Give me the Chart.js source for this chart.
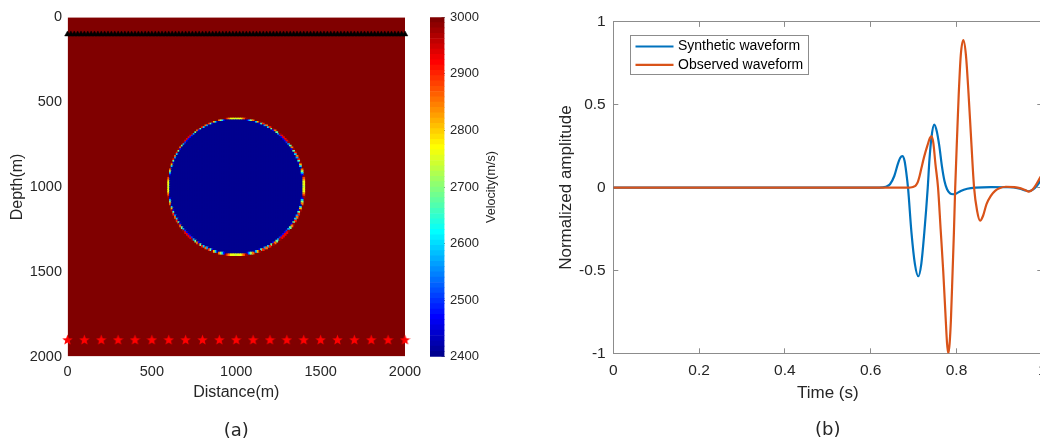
<!DOCTYPE html>
<html>
<head>
<meta charset="utf-8">
<script src="https://cdn.jsdelivr.net/npm/chart.js@4.4.1/dist/chart.umd.min.js"></script>
<style>
  html, body { margin: 0; padding: 0; background: #fff; overflow: hidden; width: 1040px; height: 445px; }
  canvas { position: absolute; top: 0; }
  #model { left: 0; }
  #cbar { left: 420px; }
  #wave { left: 520px; }
</style>
</head>
<body>
<canvas id="model" width="430" height="445"></canvas>
<canvas id="cbar" width="90" height="445"></canvas>
<canvas id="wave" width="540" height="445"></canvas>
<script>
// velocity model (a)
let backgroundVelocity = 3000,
    anomalyVelocity = 2400,
    velocityRange = [2400, 3000],
    velocityTicks = [2400, 2500, 2600, 2700, 2800, 2900, 3000],
    anomalyCenter = [1000, 1000],
    anomalyRadius = 400,
    gridStep = 10,
    modelSize = 2000,
    receiverDepth = 100,
    receiverX = [0, 20, 40, 60, 80, 100, 120, 140, 160, 180, 200, 220, 240, 260, 280, 300, 320, 340, 360, 380,
        400, 420, 440, 460, 480, 500, 520, 540, 560, 580, 600, 620, 640, 660, 680, 700, 720, 740, 760, 780,
        800, 820, 840, 860, 880, 900, 920, 940, 960, 980, 1000, 1020, 1040, 1060, 1080, 1100, 1120, 1140, 1160, 1180,
        1200, 1220, 1240, 1260, 1280, 1300, 1320, 1340, 1360, 1380, 1400, 1420, 1440, 1460, 1480, 1500, 1520, 1540, 1560, 1580,
        1600, 1620, 1640, 1660, 1680, 1700, 1720, 1740, 1760, 1780, 1800, 1820, 1840, 1860, 1880, 1900, 1920, 1940, 1960, 1980, 2000],
    sourceDepth = 1900,
    sourceX = [0, 100, 200, 300, 400, 500, 600, 700, 800, 900, 1000, 1100, 1200, 1300, 1400, 1500, 1600, 1700, 1800, 1900, 2000];

// waveforms (b)
let seriesLabels = ['Synthetic waveform', 'Observed waveform'],
    synthTime = [0, 0.62, 0.635, 0.645, 0.655, 0.663, 0.669, 0.674, 0.679, 0.683, 0.687, 0.695, 0.703, 0.711, 0.718, 0.725,
        0.733, 0.737, 0.742, 0.748, 0.754, 0.760, 0.766, 0.772, 0.778, 0.785, 0.792, 0.800, 0.810, 0.825, 0.845, 0.880,
        0.920, 0.945, 0.958, 0.968, 0.978, 0.988, 1.0],
    synthAmp = [0, 0, 0.005, 0.02, 0.07, 0.14, 0.18, 0.19, 0.16, 0.09, 0, -0.27, -0.46, -0.535, -0.46, -0.27,
        0, 0.17, 0.31, 0.38, 0.34, 0.25, 0.13, 0.04, -0.01, -0.035, -0.04, -0.035, -0.02, -0.007, 0, 0.003,
        0.002, -0.005, -0.015, -0.022, -0.012, 0.012, 0.06],
    obsTime = [0, 0.69, 0.696, 0.700, 0.705, 0.710, 0.714, 0.718, 0.725, 0.733, 0.738, 0.742, 0.746, 0.751, 0.757, 0.763,
        0.769, 0.774, 0.778, 0.781, 0.784, 0.787, 0.791, 0.794, 0.797, 0.802, 0.805, 0.810, 0.816, 0.822, 0.828, 0.834,
        0.841, 0.848, 0.855, 0.862, 0.870, 0.880, 0.890, 0.900, 0.915, 0.935, 0.950, 0.960, 0.969, 0.978, 0.986, 0.995, 1.0],
    obsAmp = [0, 0, 0.002, 0.005, 0.013, 0.035, 0.07, 0.115, 0.19, 0.26, 0.30, 0.31, 0.27, 0.14, 0, -0.25,
        -0.5, -0.75, -0.94, -1.0, -0.94, -0.8, -0.5, -0.27, 0, 0.35, 0.55, 0.80, 0.89, 0.80, 0.57, 0.30,
        0, -0.14, -0.20, -0.17, -0.10, -0.05, -0.02, -0.004, 0.005, 0.003, -0.005, -0.015, -0.024, -0.01, 0.02, 0.06, 0.08],
    seriesColors = ['#0072BD', '#D95319'];

let textColor = '#262626',
    axisGray = '#8c8c8c';

Chart.defaults.font.family = "'Liberation Sans', Arial, sans-serif";
Chart.defaults.color = textColor;

// MATLAB jet(64)
function jet(m) {
    let n = Math.ceil(m / 4), u = [], map = [];
    for (let i = 1; i <= n; i++) u.push(i / n);
    for (let i = 1; i < n; i++) u.push(1);
    for (let i = n; i >= 1; i--) u.push(i / n);
    for (let i = 0; i < m; i++) map.push([0, 0, 0]);
    let g0 = Math.ceil(n / 2) - (m % 4 === 1 ? 1 : 0);
    u.forEach(function (val, k) {
        let g = g0 + k + 1, r = g + n, b = g - n;
        if (r >= 1 && r <= m) map[r - 1][0] = val;
        if (g >= 1 && g <= m) map[g - 1][1] = val;
        if (b >= 1 && b <= m) map[b - 1][2] = val;
    });
    return map.map(c => 'rgb(' + Math.round(c[0] * 255) + ',' + Math.round(c[1] * 255) + ',' + Math.round(c[2] * 255) + ')');
}
let cmap = jet(64);

function colorOf(v) {
    let idx = Math.floor((v - velocityRange[0]) / (velocityRange[1] - velocityRange[0]) * 64);
    return cmap[Math.max(0, Math.min(63, idx))];
}

// model cells that differ from the background
let cells = [], cellColors = [];
for (let z = 0; z <= modelSize; z += gridStep) {
    for (let x = 0; x <= modelSize; x += gridStep) {
        let inside = 0;
        for (let i = 0; i < 5; i++) {
            for (let j = 0; j < 5; j++) {
                let sx = x - gridStep / 2 + (i + 0.5) * gridStep / 5,
                    sz = z - gridStep / 2 + (j + 0.5) * gridStep / 5;
                if (Math.hypot(sx - anomalyCenter[0], sz - anomalyCenter[1]) <= anomalyRadius) inside++;
            }
        }
        if (inside === 0) continue;
        let v = backgroundVelocity + (anomalyVelocity - backgroundVelocity) * inside / 25;
        cells.push({x: x, y: z});
        cellColors.push(colorOf(v));
    }
}

function starMarker(size, color) {
    let c = document.createElement('canvas');
    c.width = c.height = size;
    let g = c.getContext('2d'), R = size / 2, r = R * 0.42;
    g.beginPath();
    for (let k = 0; k < 10; k++) {
        let rad = k % 2 ? r : R, ang = -Math.PI / 2 + k * Math.PI / 5;
        g.lineTo(R + rad * Math.cos(ang), R + 0.6 + rad * Math.sin(ang));
    }
    g.closePath();
    g.fillStyle = color;
    g.fill();
    return c;
}

new Chart(document.getElementById('model'), {
    type: 'scatter',
    data: {
        datasets: [{
            type: 'line',
            data: [{x: 0, y: modelSize}, {x: modelSize, y: modelSize}],
            fill: 'origin',
            backgroundColor: colorOf(backgroundVelocity),
            borderWidth: 0,
            pointRadius: 0,
            order: 4
        }, {
            data: cells,
            pointStyle: 'rect',
            // squares a bit larger than one cell so no seams show between them
            pointRadius: function (ctx) {
                let a = ctx.chart.chartArea;
                return a ? ((a.right - a.left) / (modelSize / gridStep) + 1) / Math.SQRT2 : 2;
            },
            backgroundColor: cellColors,
            pointBorderWidth: 0,
            order: 3
        }, {
            data: receiverX.map(x => ({x: x, y: receiverDepth})),
            pointStyle: 'triangle',
            pointRadius: 3.3,
            backgroundColor: '#000',
            pointBorderColor: '#000',
            pointBorderWidth: 0.5,
            clip: false,
            order: 2
        }, {
            data: sourceX.map(x => ({x: x, y: sourceDepth})),
            pointStyle: starMarker(11, '#ff0000'),
            pointBorderWidth: 0,
            clip: false,
            order: 1
        }]
    },
    options: {
        responsive: false,
        animation: false,
        events: [],
        devicePixelRatio: 1,
        layout: {padding: {top: 17.3, right: 25, left: 0, bottom: 0}},
        plugins: {
            legend: {display: false},
            tooltip: {enabled: false},
            title: {
                display: true, position: 'bottom', fullSize: false, text: '(a)', color: textColor,
                font: {family: "'DejaVu Sans'", size: 18, weight: 'normal'}, padding: {top: 3, bottom: 3}
            }
        },
        scales: {
            x: {
                type: 'linear', min: 0, max: modelSize,
                ticks: {stepSize: 500, padding: 6.8, font: {size: 14.5}, maxRotation: 0, callback: v => String(v)},
                grid: {display: false, drawTicks: false},
                border: {display: false},
                title: {display: true, text: 'Distance(m)', font: {size: 16}, padding: {top: 0, bottom: 15.1}},
                afterFit: function (s) { s.height = 60.9; }
            },
            y: {
                type: 'linear', min: 0, max: modelSize, reverse: true,
                ticks: {stepSize: 500, padding: 5.5, font: {size: 14.5}, callback: v => String(v)},
                grid: {display: false, drawTicks: false},
                border: {display: false},
                title: {display: true, text: 'Depth(m)', font: {size: 16}, padding: {top: 8.4, bottom: 0}},
                afterFit: function (s) { s.width = 67.5; }
            }
        }
    }
});

// colour bar
let cbarTitle = {
    id: 'cbarTitle',
    afterDraw: function (chart) {
        let s = chart.scales.y, ctx = chart.ctx;
        ctx.save();
        ctx.translate(s.left + 47.5, (s.top + s.bottom) / 2);
        ctx.rotate(-Math.PI / 2);
        ctx.font = "12.6px 'Liberation Sans'";
        ctx.fillStyle = textColor;
        ctx.textAlign = 'center';
        ctx.textBaseline = 'middle';
        ctx.fillText('Velocity(m/s)', 0, 0);
        ctx.restore();
    }
};

let bandStep = (velocityRange[1] - velocityRange[0]) / 64;
new Chart(document.getElementById('cbar'), {
    type: 'bar',
    data: {
        labels: [''],
        datasets: cmap.map(function (c, i) {
            return {
                data: [[velocityRange[0] + i * bandStep, velocityRange[0] + (i + 1) * bandStep]],
                backgroundColor: c,
                borderWidth: 0,
                grouped: false,
                barPercentage: 1,
                categoryPercentage: 1
            };
        })
    },
    options: {
        responsive: false,
        animation: false,
        events: [],
        devicePixelRatio: 1,
        layout: {padding: {left: 10, top: 17.3, bottom: 88.3, right: 0}},
        plugins: {legend: {display: false}, tooltip: {enabled: false}},
        scales: {
            x: {display: false},
            y: {
                position: 'right', min: velocityRange[0], max: velocityRange[1],
                afterBuildTicks: function (s) { s.ticks = velocityTicks.map(v => ({value: v})); },
                ticks: {padding: 8.5, font: {size: 13}, callback: v => String(v)},
                grid: {drawOnChartArea: false, tickLength: -3, color: textColor, lineWidth: 0.6},
                border: {display: false},
                afterFit: function (s) { s.width = 65.5; }
            }
        }
    },
    plugins: [cbarTitle]
});

// waveform comparison
let legendBox = {
    id: 'legendBox',
    afterDraw: function (chart) {
        let a = chart.chartArea, ctx = chart.ctx,
            x0 = Math.round(a.left + 16.7) + 0.5, y0 = Math.round(a.top + 13.4) + 0.5, w = 178, h = 39;
        ctx.save();
        ctx.fillStyle = '#fff';
        ctx.fillRect(x0, y0, w, h);
        ctx.strokeStyle = axisGray;
        ctx.lineWidth = 1;
        ctx.strokeRect(x0, y0, w, h);
        ctx.font = "14px 'Liberation Sans'";
        ctx.textBaseline = 'middle';
        chart.data.datasets.forEach(function (ds, i) {
            let y = y0 + 11 + i * 18.3;
            ctx.strokeStyle = ds.borderColor;
            ctx.lineWidth = 2.2;
            ctx.beginPath();
            ctx.moveTo(x0 + 5, y);
            ctx.lineTo(x0 + 43, y);
            ctx.stroke();
            ctx.fillStyle = '#000';
            ctx.fillText(ds.label, x0 + 47.5, y);
        });
        ctx.restore();
    }
};

let boxGrid = {drawOnChartArea: false, tickLength: -5, color: axisGray, lineWidth: 1},
    shortNumber = v => String(Math.round(v * 10) / 10);

new Chart(document.getElementById('wave'), {
    type: 'line',
    data: {
        datasets: [{
            label: seriesLabels[0],
            data: synthTime.map((t, i) => ({x: t, y: synthAmp[i]})),
            borderColor: seriesColors[0],
            order: 2
        }, {
            label: seriesLabels[1],
            data: obsTime.map((t, i) => ({x: t, y: obsAmp[i]})),
            borderColor: seriesColors[1],
            order: 1
        }]
    },
    options: {
        responsive: false,
        animation: false,
        events: [],
        devicePixelRatio: 1,
        datasets: {line: {borderWidth: 2.2, pointRadius: 0, fill: false, cubicInterpolationMode: 'monotone'}},
        layout: {padding: {top: 17.3, right: 16.7, left: 0, bottom: 0}},
        plugins: {
            legend: {display: false},
            tooltip: {enabled: false},
            title: {
                display: true, position: 'bottom', fullSize: false, text: '(b)', color: textColor,
                font: {family: "'DejaVu Sans'", size: 18, weight: 'normal'}, padding: {top: 2, bottom: 4}
            }
        },
        scales: {
            x: {
                type: 'linear', min: 0, max: 1,
                ticks: {stepSize: 0.2, padding: 13.4, font: {size: 15.5}, maxRotation: 0, callback: shortNumber},
                grid: boxGrid,
                border: {color: axisGray},
                title: {display: true, text: 'Time (s)', font: {size: 17}, padding: {top: 0, bottom: 14.2}},
                afterFit: function (s) { s.height = 64.1; }
            },
            y: {
                type: 'linear', min: -1, max: 1,
                ticks: {stepSize: 0.5, padding: 12.6, font: {size: 15.5}, callback: shortNumber},
                grid: boxGrid,
                border: {color: axisGray},
                title: {display: true, text: 'Normalized amplitude', font: {size: 17}, padding: {top: 35.8, bottom: 0}},
                afterFit: function (s) { s.width = 93.3; }
            },
            x2: {
                type: 'linear', position: 'top', min: 0, max: 1,
                ticks: {display: false, stepSize: 0.2},
                grid: boxGrid,
                border: {color: axisGray},
                afterFit: function (s) { s.height = 0; }
            },
            y2: {
                type: 'linear', position: 'right', min: -1, max: 1,
                ticks: {display: false, stepSize: 0.5},
                grid: boxGrid,
                border: {color: axisGray},
                afterFit: function (s) { s.width = 0; }
            }
        }
    },
    plugins: [legendBox]
});
</script>
</body>
</html>
